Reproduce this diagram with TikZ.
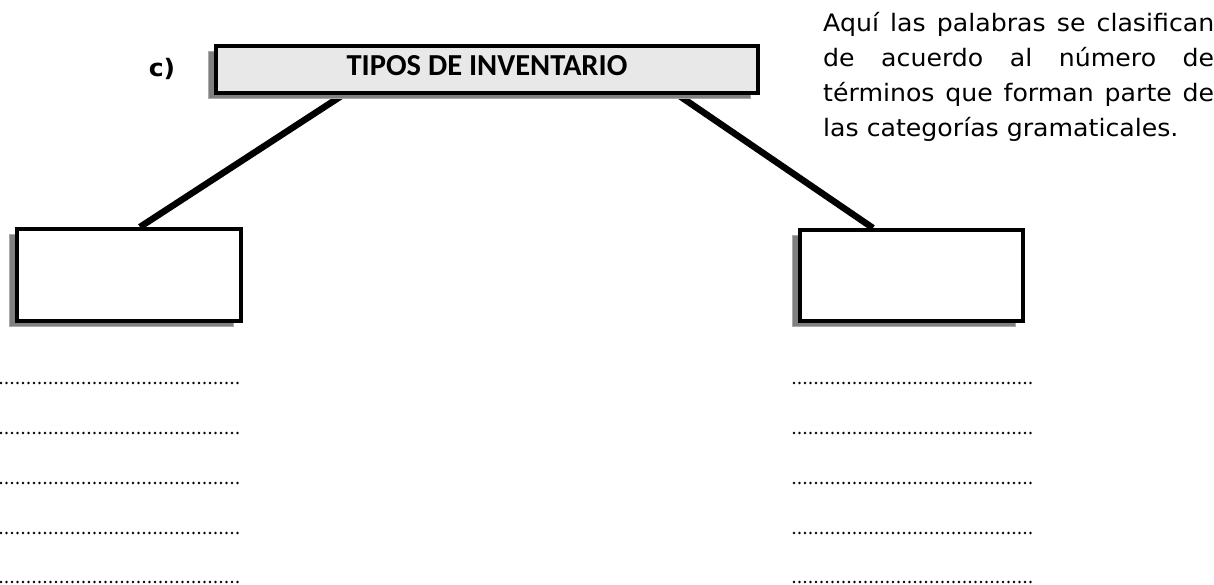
\documentclass[tikz,border=0pt]{standalone}
\usepackage{fontspec}
\newfontfamily\titelschrift{Carlito}
\newfontfamily\comicschrift{DejaVu Sans}[FakeStretch=1.05]
\usepackage{tikz}
\usetikzlibrary{calc,shadows,backgrounds}
\definecolor{schatten}{RGB}{128,128,128}
\definecolor{rand}{RGB}{170,170,170}
\definecolor{stein}{RGB}{232,232,232}

\begin{document}
\begin{tikzpicture}[x=1pt,y=-1pt,
    kasten/.style={draw=black,line width=4pt,fill=white,inner sep=0pt,
        general shadow={fill=schatten,draw=rand,line width=1pt,
            shadow xshift=-8pt,shadow yshift=-5pt}},
    titel/.style={kasten,fill=stein,
        font=\titelschrift\bfseries\fontsize{30.5}{32}\selectfont,
        text height=19pt,text depth=8pt},
    ast/.style={draw=black,line width=6.5pt},
    punkte/.style={line width=2.6pt,line cap=round,dash pattern=on 0pt off 5.5pt}]
    \useasboundingbox (0,0) rectangle (1214,584);

    \node[titel,minimum width=542pt,minimum height=47pt] (typen) at (487,69.5) {TIPOS DE INVENTARIO};
    \node[font=\comicschrift\bfseries\fontsize{24}{26}\selectfont] (buchst) at (162,69) {c)};
    \node[kasten,minimum width=224pt,minimum height=92pt] (links) at (129,275) {};
    \node[kasten,minimum width=223pt,minimum height=91pt] (rechts) at (911.5,275.5) {};

    \begin{pgfonlayer}{background}
    \draw[ast] ($(typen.south west)!0.236!(typen.south east)$) -- ($(links.north west)!0.548!(links.north east)$);
    \draw[ast] ($(typen.south west)!0.85!(typen.south east)$) -- ($(rechts.north west)!0.33!(rechts.north east)$);
    \end{pgfonlayer}

    \node[anchor=base west,inner sep=0pt,align=left,
        font=\comicschrift\fontsize{24}{35}\selectfont] (erkl) at (823,136)
        {\makebox[391pt][s]{Aquí las palabras se clasifican}\\
         \makebox[391pt][s]{de acuerdo al número de}\\
         \makebox[391pt][s]{términos que forman parte de}\\
         las categorías gramaticales.};

    % Zeilen zum Ausfuellen
    \foreach \y in {383,433,483,533,582}{
        \draw[punkte] (1,\y) -- (238,\y);
        \draw[punkte] (794,\y) -- (1033,\y);
    }
\end{tikzpicture}
\end{document}
